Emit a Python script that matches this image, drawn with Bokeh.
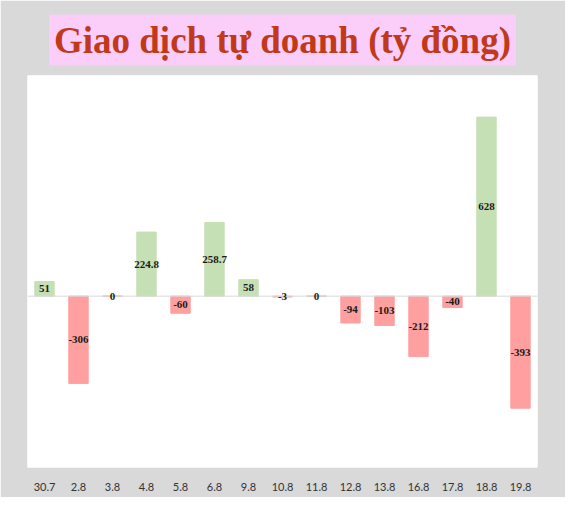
from bokeh.plotting import figure
from bokeh.models import ColumnDataSource, Title, Span, LabelSet, Range1d
from bokeh.embed import file_html
from bokeh.resources import INLINE

dates = ["30.7", "2.8", "3.8", "4.8", "5.8", "6.8", "9.8", "10.8", "11.8",
         "12.8", "13.8", "16.8", "17.8", "18.8", "19.8"]
values = [51, -306, 0, 224.8, -60, 258.7, 58, -3, 0, -94, -103, -212, -40, 628, -393]
labels = ["51", "-306", "0", "224.8", "-60", "258.7", "58", "-3", "0",
          "-94", "-103", "-212", "-40", "628", "-393"]

GREEN = "#c5e0b4"
RED = "#ff9f9f"
colors = [GREEN if v > 0 else RED for v in values]

src = ColumnDataSource(dict(
    x=dates, top=values, bottom=[0] * len(values), color=colors,
    mid=[v / 2 for v in values], label=labels,
))

p = figure(x_range=dates, width=565, height=497, output_backend="svg",
           toolbar_location=None, min_border_left=27, min_border_right=28,
           min_border_top=75, min_border_bottom=30)
p.y_range = Range1d(-601, 774)

p.title = Title(text="Giao dịch tự doanh (tỷ đồng)", align="center",
                text_font="Liberation Serif", text_font_size="37px",
                text_font_style="bold", text_color="#c0391b",
                background_fill_color="#fbcdf9", offset=0, standoff=20)
try:
    p.title.padding = 5
except Exception:
    pass

p.vbar(x="x", top="top", bottom="bottom", width=0.57, color="color", source=src)

p.add_layout(Span(location=0, dimension="width", line_color="#d9d9d9", line_width=1))

p.add_layout(LabelSet(x="x", y="mid", text="label", source=src,
                      text_align="center", text_baseline="middle",
                      text_font_size="11px", text_font="Lato",
                      text_font_style="bold", text_color="#1a1a1a"))

p.background_fill_color = "white"
p.border_fill_color = "#d9d9d9"
p.outline_line_color = None
p.grid.visible = False
p.yaxis.visible = False
p.xaxis.axis_line_color = None
p.xaxis.major_tick_line_color = None
p.xaxis.minor_tick_line_color = None
p.xaxis.major_label_standoff = 9
p.xaxis.major_label_text_font = "Lato"
p.xaxis.major_label_text_font_size = "11px"
p.xaxis.major_label_text_color = "#333333"

open("out.html", "w").write(file_html(p, INLINE))
